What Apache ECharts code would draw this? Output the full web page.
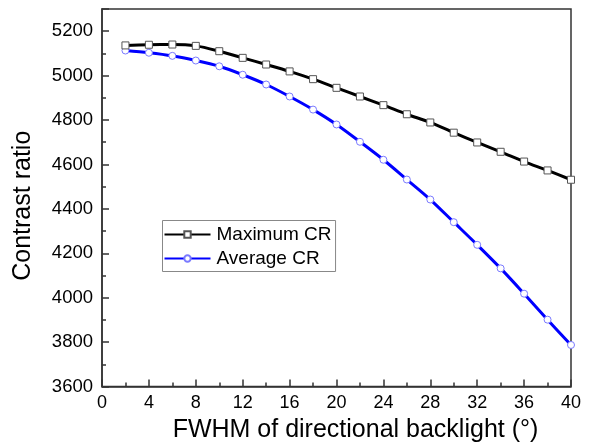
<!DOCTYPE html>
<html>
<head>
<meta charset="utf-8">
<script src="https://cdn.jsdelivr.net/npm/echarts@6/dist/echarts.min.js"></script>
<style>html,body{margin:0;padding:0;background:#fff}#c{width:594px;height:444px}</style>
</head>
<body>
<div id="c"></div>
<script>
const fwhm = [2,4,6,8,10,12,14,16,18,20,22,24,26,28,30,32,34,36,38,40];
const maxCR = [5136,5139,5140,5134,5110,5080,5050,5019,4984,4945,4906,4867,4826,4789,4743,4699,4657,4613,4573,4531];
const avgCR = [5113,5103,5089,5068,5042,5004,4960,4906,4847,4780,4702,4621,4532,4442,4340,4238,4132,4018,3901,3787];
const xTicks = [0,4,8,12,16,20,24,28,32,36,40];
const yTicks = [3600,3800,4000,4200,4400,4600,4800,5000,5200];

const font = 'Liberation Sans, Arial, Helvetica, sans-serif';
const ax = '#333';
const chart = echarts.init(document.getElementById('c'), null, {renderer: 'canvas'});
chart.setOption({
  animation: false,
  backgroundColor: '#fff',
  grid: {left: 102, right: 23, top: 9, bottom: 57.5, show: true, borderColor: ax, borderWidth: 1.5,
    backgroundColor: 'transparent', outerBoundsMode: 'none', containLabel: false},
  legend: {
    orient: 'vertical', left: 162.5, top: 220.5,
    backgroundColor: '#fff', borderColor: '#888', borderWidth: 1,
    padding: [4, 4, 3, 1], itemGap: 4, itemWidth: 46, itemHeight: 8,
    textStyle: {fontFamily: font, fontSize: 19, color: '#000', lineHeight: 20, padding: [0,0,0,1]},
    data: ['Maximum CR', 'Average CR']
  },
  xAxis: {
    type: 'value', min: xTicks[0], max: xTicks[xTicks.length-1], interval: 4,
    name: 'FWHM of directional backlight (°)', nameLocation: 'middle', nameGap: 31,
    nameTextStyle: {fontFamily: font, fontSize: 25, color: '#000', padding: [0,0,0,38]},
    axisLine: {lineStyle: {color: ax, width: 1.5}},
    axisTick: {inside: true, length: 7, lineStyle: {color: ax, width: 1.5}},
    minorTick: {show: true, splitNumber: 2, length: 4, lineStyle: {color: ax, width: 1.5}},
    axisLabel: {fontFamily: font, fontSize: 18, color: '#000', margin: 8,
      formatter: v => xTicks.includes(v) ? String(v) : ''},
    splitLine: {show: false}
  },
  yAxis: [{
    type: 'value', min: yTicks[0], max: 5300, interval: 200,
    name: 'Contrast ratio', nameLocation: 'middle', nameGap: 66,
    nameTextStyle: {fontFamily: font, fontSize: 25, color: '#000', padding: [0,16,0,0]},
    axisLine: {lineStyle: {color: ax, width: 1.5}},
    axisTick: {inside: true, length: 7, lineStyle: {color: ax, width: 1.5}},
    axisLabel: {fontFamily: font, fontSize: 18.5, color: '#000', margin: 9,
      formatter: v => yTicks.includes(v) ? String(v) : ''},
    splitLine: {show: false}
  }, {
    type: 'value', min: yTicks[0], max: 5300, interval: 100, position: 'left',
    axisLine: {show: false},
    axisTick: {inside: true, length: 4, lineStyle: {color: ax, width: 1.5}},
    axisLabel: {show: false},
    splitLine: {show: false}
  }],
  series: [{
    name: 'Maximum CR', type: 'line', smooth: 0.3,
    data: fwhm.map((x, i) => [x, maxCR[i]]),
    symbol: 'rect', symbolSize: 7,
    lineStyle: {color: '#000', width: 3},
    itemStyle: {color: '#fff', borderColor: '#555', borderWidth: 1},
    z: 3
  }, {
    name: 'Average CR', type: 'line', smooth: 0.3,
    data: fwhm.map((x, i) => [x, avgCR[i]]),
    symbol: 'circle', symbolSize: 7,
    lineStyle: {color: '#0000ff', width: 3},
    itemStyle: {color: '#fff', borderColor: '#7a7aff', borderWidth: 1},
    z: 2
  }]
});
</script>
</body>
</html>
